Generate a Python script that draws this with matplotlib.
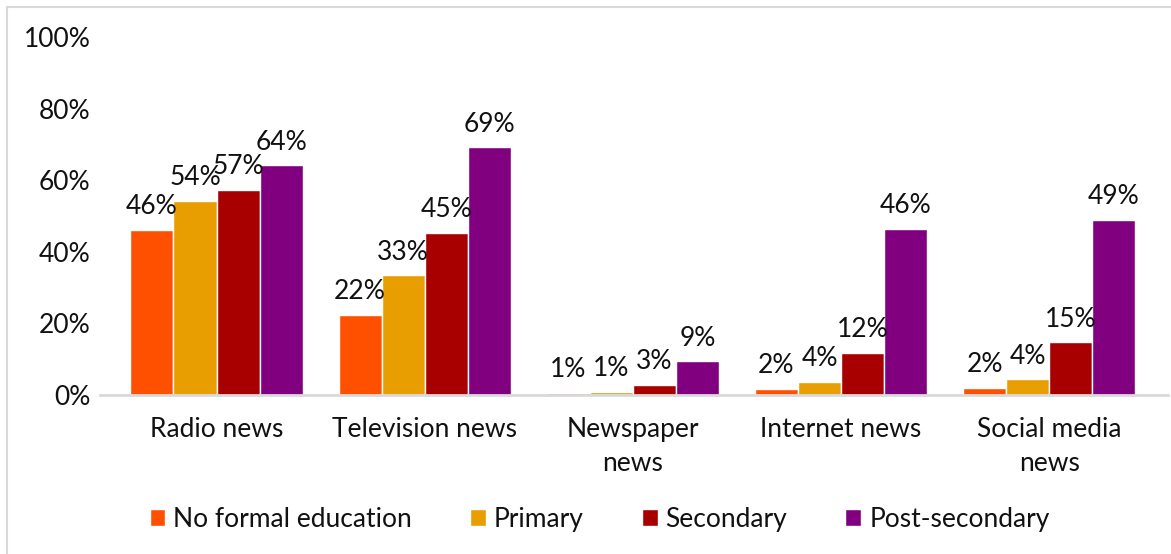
import matplotlib.pyplot as plt
import numpy as np
from matplotlib.patches import Rectangle

categories = ["Radio news", "Television news", "Newspaper\nnews", "Internet news", "Social media\nnews"]
series_names = ["No formal education", "Primary", "Secondary", "Post-secondary"]
no_formal = [46.1, 22.3, 0.6, 1.8, 1.9]
primary = [54.2, 33.4, 0.8, 3.6, 4.4]
secondary = [57.4, 45.4, 2.8, 11.7, 14.7]
post_secondary = [64.2, 69.2, 9.4, 46.4, 49.0]
y_ticks = [0, 20, 40, 60, 80, 100]

colors = ["#FF5000", "#E89E00", "#A80000", "#800080"]
series = [no_formal, primary, secondary, post_secondary]

plt.rcParams["font.family"] = ["Lato", "DejaVu Sans"]
fs = 19

fig = plt.figure(figsize=(11.71, 5.54), dpi=100)
ax = fig.add_axes([0.0854, 0.287, 0.912, 0.646])

x = np.arange(len(categories))
width = 0.207
for i, (vals, color, name) in enumerate(zip(series, colors, series_names)):
  offset = (i - 1.5) * width
  bars = ax.bar(x + offset, vals, width, color=color, edgecolor="white",
                linewidth=1, label=name)
  for bar, v in zip(bars, vals):
    ax.text(bar.get_x() + bar.get_width() / 2, bar.get_height() + 3.0,
            f"{v:.0f}%", ha="center", va="bottom", fontsize=fs, color="#111111")

ax.set_xlim(-0.56, 4.57)
ax.set_ylim(0, 100)
ax.set_yticks(y_ticks)
ax.set_yticklabels([f"{t}%" for t in y_ticks], fontsize=fs, color="#111111")
ax.set_xticks(x)
ax.set_xticklabels(categories, fontsize=fs, color="#111111", linespacing=1.45)
ax.tick_params(axis="both", length=0)
ax.tick_params(axis="y", pad=7)
ax.tick_params(axis="x", pad=16)

for side in ["top", "right", "left"]:
  ax.spines[side].set_visible(False)
ax.spines["bottom"].set_color("#D9D9D9")
ax.spines["bottom"].set_linewidth(2)

fig.legend(loc="center", bbox_to_anchor=(0.512, 0.063), ncol=4, frameon=False,
           fontsize=fs, handlelength=0.6, handleheight=0.6, handletextpad=0.3,
           columnspacing=2.2, labelcolor="#111111")

# thin frame around the chart area
fig.patches.append(Rectangle((7 / 1171, -0.1), 1.2, 1 - 7 / 554 + 0.1,
                             transform=fig.transFigure, fill=False,
                             edgecolor="#D9D9D9", linewidth=1.5))

fig.savefig("out.png", dpi=100)
